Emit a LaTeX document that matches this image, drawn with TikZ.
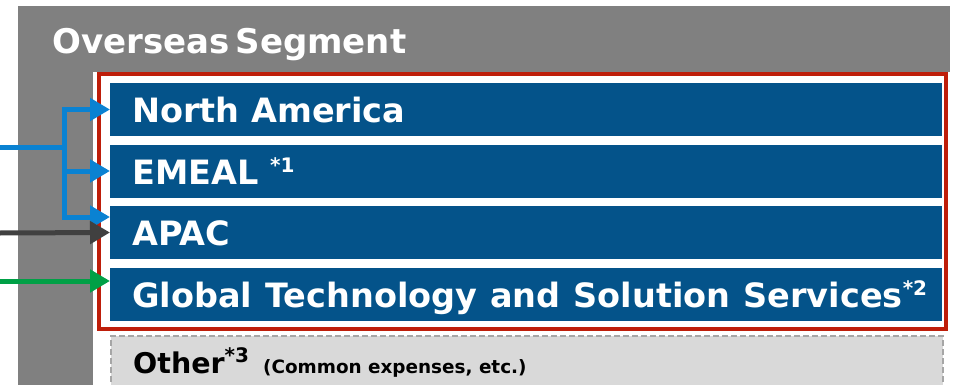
\documentclass[tikz,border=0pt]{standalone}
\usepackage{fontspec}
\setmainfont{DejaVu Sans}
\usetikzlibrary{arrows.meta,calc}
\definecolor{segGray}{RGB}{128,128,128}
\definecolor{barBlue}{RGB}{4,83,138}
\definecolor{arrBlue}{RGB}{10,130,210}
\definecolor{arrDark}{RGB}{64,64,64}
\definecolor{arrGreen}{RGB}{0,160,70}
\definecolor{boxRed}{RGB}{190,30,10}
\definecolor{otherFill}{RGB}{217,217,217}
\definecolor{otherLine}{RGB}{166,166,166}
\tikzset{
  barbox/.style={draw=none,fill=barBlue,minimum width=832pt,minimum height=53pt,inner sep=0pt,anchor=west},
  bartext/.style={anchor=base west,inner sep=0pt,text=white,font=\fontsize{33.5}{33.5}\selectfont\bfseries},
  feed/.style={line width=5pt,line join=miter,-{Triangle[length=20pt,width=22pt]}},
}
\newcommand{\supmark}[2]{\raisebox{#1}{\fontsize{20}{20}\selectfont #2}}
\begin{document}
\begin{tikzpicture}[x=1pt,y=-1pt]
\useasboundingbox (0,0) rectangle (955,385);
% background panels
\fill[segGray] (18,6) rectangle (950,385);
\fill[white] (93,72) rectangle (950,385);
\node[anchor=base west,inner sep=0pt,text=white,font=\fontsize{34}{34}\selectfont\bfseries] (title) at (52,54) {Overseas\hspace{6pt}Segment};
% red frame
\draw[boxRed,line width=4pt] (99,74) rectangle (946,329);
% bars
\node[barbox] (na) at (110,109.5) {};
\node[barbox] (em) at (110,171) {};
\node[barbox] (ap) at (110,232.5) {};
\node[barbox] (gt) at (110,294) {};
\node[bartext] (naT) at (132,123) {North America};
\node[bartext] (emT) at (132,184) {EMEAL \supmark{12pt}{*1}};
\node[bartext] (apT) at (132,245) {APAC};
\node[bartext] (gtT) at (132,307) {\spaceskip=13pt Global Technology and Solution Services\supmark{12pt}{*2}};
% other box
\node[draw=otherLine,fill=otherFill,dashed,dash pattern=on 6pt off 3pt,line width=1.5pt,minimum width=832pt,minimum height=60pt,inner sep=0pt,anchor=north west] (ot) at (110,335) {};
\node[anchor=base west,inner sep=0pt,font=\fontsize{28.5}{28.5}\selectfont\bfseries] (otT) at (133,373) {Other\supmark{11pt}{*3}\hspace{14pt}\fontsize{18.4}{18.4}\selectfont (Common expenses, etc.)};
% feeding arrows
\coordinate (bIn) at (0,147);
\coordinate (bJ) at (64,147);
\coordinate (apHi) at ($(ap.west)+(0,-15.5)$);
\draw[arrBlue,line width=5pt] (bIn) -- (bJ);
\draw[arrBlue,feed] (bJ) |- (na.west);
\draw[arrBlue,feed] (bJ) |- (em.west);
\draw[arrBlue,feed] (bJ) |- (apHi);
\coordinate (dIn) at (0,233);
\draw[arrDark,feed] (dIn) -- (ap.west);
\coordinate (gIn) at (0,281);
\coordinate (gtLo) at ($(gt.west)+(0,-13)$);
\draw[arrGreen,feed] (gIn) -- (gtLo);
\end{tikzpicture}
\end{document}
